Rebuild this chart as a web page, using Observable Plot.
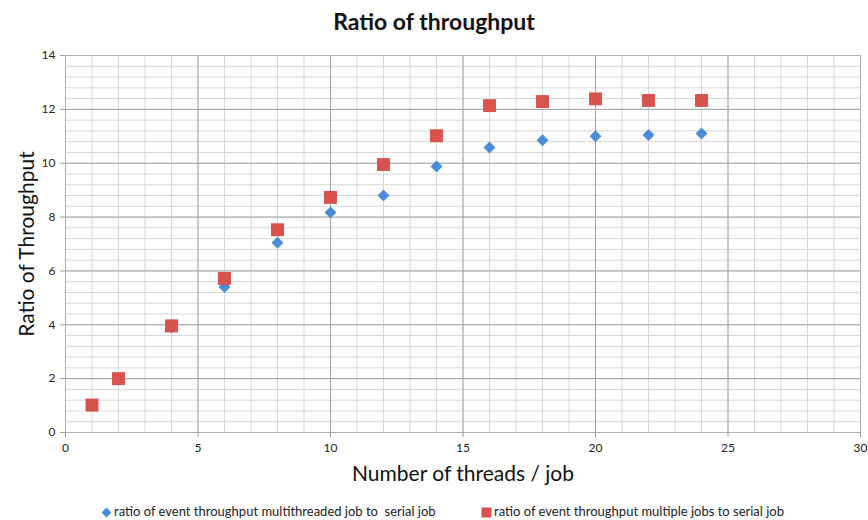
<!DOCTYPE html>
<html>
<head>
<meta charset="utf-8">
<script src="https://cdn.jsdelivr.net/npm/d3@7"></script>
<script src="https://cdn.jsdelivr.net/npm/@observablehq/plot@0.6"></script>
<style>
  body { margin: 0; background: #fff; font-family: Lato, "Open Sans", sans-serif; }
  #wrap { position: relative; width: 868px; height: 520px; }
  #title { height: 40px; text-align: center; font-weight: bold; font-size: 23px; line-height: 42px; color: #111; }
  #legend { position: absolute; top: 503px; left: 0; width: 868px; font-size: 13px; color: #222; }
  .li { position: absolute; white-space: pre; }
  .sw { display: inline-block; vertical-align: middle; margin-right: 2px; }
</style>
</head>
<body>
<div id="wrap">
  <div id="title">Ratio of throughput</div>
  <div id="chart"></div>
  <div id="legend"></div>
</div>
<script>
const threads = [1, 2, 4, 6, 8, 10, 12, 14, 16, 18, 20, 22, 24];
const multithreaded = [1.0, 2.0, 3.9, 5.4, 7.05, 8.17, 8.8, 9.88, 10.58, 10.85, 11.0, 11.05, 11.1];
const multipleJobs = [1.02, 2.0, 3.96, 5.72, 7.53, 8.73, 9.95, 11.02, 12.14, 12.29, 12.39, 12.33, 12.33];
const seriesNames = [
  "ratio of event throughput multithreaded job to  serial job",
  "ratio of event throughput multiple jobs to serial job"
];
const xTicks = [0, 5, 10, 15, 20, 25, 30];
const yTicks = [0, 2, 4, 6, 8, 10, 12, 14];
const blue = "#4a8fd6", red = "#da524e";

const data = [];
threads.forEach((t, i) => {
  data.push({threads: t, ratio: multithreaded[i], series: seriesNames[0]});
});
threads.forEach((t, i) => {
  data.push({threads: t, ratio: multipleJobs[i], series: seriesNames[1]});
});

const minorX = d3.range(0, 31, 1);
const minorY = d3.range(0, 14.01, 0.4);

const chart = Plot.plot({
  width: 868,
  height: 455,
  marginTop: 15,
  marginBottom: 63,
  marginLeft: 65,
  marginRight: 8,
  style: {fontFamily: "Lato, 'Open Sans', sans-serif", fontSize: "12px", color: "#222", background: "#fff"},
  x: {domain: [0, 30]},
  y: {domain: [0, 14]},
  marks: [
    Plot.ruleX(minorX, {stroke: "#d6d6d6", strokeWidth: 1}),
    Plot.ruleY(minorY, {stroke: "#d6d6d6", strokeWidth: 1}),
    Plot.ruleX(xTicks, {stroke: "#a4a4a4", strokeWidth: 1}),
    Plot.ruleY(yTicks, {stroke: "#a4a4a4", strokeWidth: 1}),
    Plot.frame({stroke: "#b0b0b0"}),
    Plot.axisX({ticks: xTicks, tickSize: 5, tickPadding: 6, stroke: "#999", label: "Number of threads / job", labelAnchor: "center", labelArrow: "none", labelOffset: 48, fontSize: 12}),
    Plot.axisY({ticks: yTicks, tickSize: 5, tickPadding: 5, stroke: "#999", label: "Ratio of Throughput", labelAnchor: "center", labelArrow: "none", labelOffset: 46, fontSize: 12}),
    Plot.dot(data.filter(d => d.series === seriesNames[0]), {x: "threads", y: "ratio", symbol: "diamond2", r: 5.4, fill: blue, stroke: "none"}),
    Plot.dot(data.filter(d => d.series === seriesNames[1]), {x: "threads", y: "ratio", symbol: "square", r: 7.3, fill: red, stroke: "none"})
  ]
});
document.getElementById("chart").appendChild(chart);

chart.querySelectorAll("[aria-label='x-axis label'] text, [aria-label='y-axis label'] text").forEach(t => {
  t.style.fontSize = "21px";
  t.style.fill = "#111";
});

const legend = document.getElementById("legend");
legend.innerHTML =
  `<span class="li" style="left:101px;"><svg class="sw" width="11" height="11"><path d="M5.5,0.5L10.5,5.5L5.5,10.5L0.5,5.5Z" fill="${blue}"/></svg>${seriesNames[0]}</span>` +
  `<span class="li" style="left:481px;"><svg class="sw" width="11" height="11"><rect x="0.5" y="0.5" width="10" height="10" fill="${red}"/></svg>${seriesNames[1]}</span>`;
</script>
</body>
</html>
